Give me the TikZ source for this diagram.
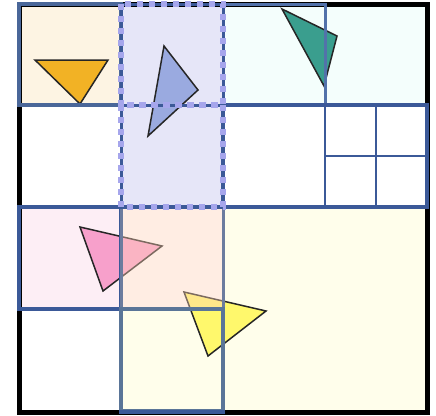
\documentclass[tikz,border=0pt]{standalone}
\usetikzlibrary{calc}
\definecolor{cream}{HTML}{FDF4E3}
\definecolor{lav}{HTML}{E6E6F8}
\definecolor{lavdot}{HTML}{A6A6EC}
\definecolor{cyanbg}{HTML}{F4FEFC}
\definecolor{pinkbg}{HTML}{FDEEF5}
\definecolor{yelbg}{HTML}{FFFEEB}
\definecolor{peachov}{HTML}{FFD2B8}
\definecolor{bord}{HTML}{3B5998}
\definecolor{bordlight}{HTML}{5272AA}
\definecolor{bordgrey}{HTML}{6C7C9E}
\definecolor{bordgrey2}{HTML}{5A7598}
\definecolor{triorange}{HTML}{F2B225}
\definecolor{triblue}{HTML}{9AAAE0}
\definecolor{triteal}{HTML}{3A9E8E}
\definecolor{tripink}{HTML}{F7A0CB}
\definecolor{triyellow}{HTML}{FFF86C}
\begin{document}
\begin{tikzpicture}[x=1pt,y=-1pt,
  tri/.style={draw=black!85,line width=1.5pt,line join=miter},
  cellb/.style={draw=bord,line width=3.5pt},
  smallb/.style={draw=bord,line width=2.8pt},
  dotb/.style={draw=lavdot,line width=5.5pt,dash pattern=on 6pt off 6pt}]
\useasboundingbox (0,0) rectangle (436,415);
% fills
\fill[cream] (19,4) rectangle (121,105);
\fill[lav] (121,4) rectangle (223,207);
\fill[cyanbg] (223,4) rectangle (427,105);
\fill[pinkbg] (19,207) rectangle (121,309);
\fill[yelbg] (121,309) rectangle (223,411);
\fill[yelbg] (223,207) rectangle (427,411);
% outer frame
\draw[black,line width=5pt] (19,4) rectangle (427,412);
% triangles
\draw[tri,fill=triorange] (35,60) -- (108,60) -- (80,104) -- cycle;
\draw[tri,fill=triblue] (164,46) -- (198,90) -- (148,136) -- cycle;
\draw[tri,fill=triteal] (282,9) -- (337,36) -- (324,86) -- cycle;
\draw[tri,fill=tripink] (80,227) -- (162,246) -- (103,291) -- cycle;
\draw[tri,fill=triyellow] (184,292) -- (266,311) -- (208,356) -- cycle;
% peach overlay
\fill[peachov,opacity=0.4] (121,207) rectangle (223,309);
% borders
\draw[cellb,draw=bordlight!90!black] (19,4) rectangle (121,105);
\draw[draw=bordlight,line width=3pt] (223,4) -- (325,4) -- (325,105);
\draw[cellb] (223,105) rectangle (427,207);
\draw[smallb] (325,105) -- (325,207);
\draw[smallb] (376,105) -- (376,207);
\draw[smallb] (325,156) -- (427,156);
\draw[cellb] (19,207) rectangle (121,309);
\draw[cellb] (121,207) -- (427,207);
\draw[draw=bordgrey,line width=3pt] (121,207) rectangle (223,309);
\draw[draw=bordgrey2,line width=4pt] (121,309) rectangle (223,411);
\draw[cellb] (119,412) -- (225,412);
% lavender dotted cells
\draw[draw=bord,line width=3pt] (121,4) rectangle (223,105);
\draw[draw=bord,line width=3pt] (121,105) rectangle (223,207);
\draw[dotb] (121,4) rectangle (223,105);
\draw[dotb] (121,105) rectangle (223,207);
\end{tikzpicture}
\end{document}
